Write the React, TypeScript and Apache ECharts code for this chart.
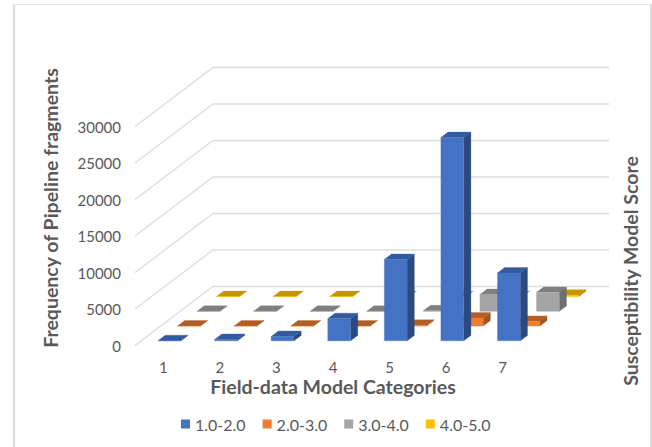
import React, { useEffect, useRef } from "react";
import * as echarts from "echarts";

const categories = ["1", "2", "3", "4", "5", "6", "7"];
const seriesNames = ["1.0-2.0", "2.0-3.0", "3.0-4.0", "4.0-5.0"];
const scoreLow = [30, 200, 600, 3050, 11150, 27850, 9300];
const scoreMidLow = [10, 10, 10, 10, 120, 1100, 650];
const scoreMidHigh = [10, 10, 10, 10, 80, 2300, 2600];
const scoreHigh = [10, 10, 10, 10, 10, 30, 200];
const yTicks = [0, 5000, 10000, 15000, 20000, 25000, 30000];

const seriesValues = [scoreLow, scoreMidLow, scoreMidHigh, scoreHigh];
const faces = [
  { front: "#4472C4", top: "#335A9E", side: "#2C4A80" },
  { front: "#ED7D31", top: "#B55E22", side: "#A5551F" },
  { front: "#A5A5A5", top: "#7F7F7F", side: "#6F6F6F" },
  { front: "#FFC000", top: "#C69500", side: "#B38600" },
];

// Oblique projection of the floor: how far the full depth shifts on screen.
const DEPTH_X = 78;
const DEPTH_Y = 59;
const BACK_WALL_END = 609;
const ROWS = 4;
const BAR_W = 22.8;
const BAR_DEPTH = 0.37; // share of a row taken by a bar

const FONT = "Lato, 'Noto Sans', sans-serif";
const GREY = "#595959";

const renderBar = (row: number) => (_: any, api: any) => {
  const cx = api.coord([api.value(0), 0])[0];
  const yBase = api.coord([api.value(0), 0])[1];
  const yTop = api.coord([api.value(0), api.value(1)])[1];
  const rowDx = DEPTH_X / ROWS;
  const rowDy = DEPTH_Y / ROWS;
  const inset = (1 - BAR_DEPTH) / 2;
  const ox = cx - BAR_W / 2 + rowDx * (row + inset);
  const oy = -rowDy * (row + inset);
  const dx = rowDx * BAR_DEPTH;
  const dy = rowDy * BAR_DEPTH;
  const x0 = ox;
  const x1 = ox + BAR_W;
  const b = yBase + oy;
  const t = yTop + oy;
  const face = faces[row];
  const poly = (points: number[][], fill: string) => ({
    type: "polygon",
    shape: { points },
    style: { fill, stroke: fill, lineWidth: 0.3 },
  });
  return {
    type: "group",
    children: [
      poly([[x1, b], [x1 + dx, b - dy], [x1 + dx, t - dy], [x1, t]], face.side),
      poly([[x0, t], [x1, t], [x1 + dx, t - dy], [x0 + dx, t - dy]], face.top),
      poly([[x0, b], [x1, b], [x1, t], [x0, t]], face.front),
    ],
  };
};

const renderWall = (_: any, api: any) => {
  const y = api.coord([0, api.value(0)])[1];
  const left = api.coord([0, 0])[0] - api.size([1, 0])[0] / 2;
  return {
    type: "polyline",
    shape: {
      points: [
        [left, y],
        [left + DEPTH_X, y - DEPTH_Y],
        [BACK_WALL_END, y - DEPTH_Y],
      ],
    },
    style: { fill: "none", stroke: "#DEDEDE", lineWidth: 1.4 },
  };
};

const frameLine = (x1: number, y1: number, x2: number, y2: number, lineWidth: number, stroke: string) => ({
  type: "line",
  shape: { x1, y1, x2, y2 },
  style: { stroke, lineWidth },
  silent: true,
});

export default function App() {
  const ref = useRef<HTMLDivElement>(null);
  useEffect(() => {
    const chart = echarts.init(ref.current!, undefined, { renderer: "svg" });
    chart.setOption({
      animation: false,
      backgroundColor: "#FFFFFF",
      textStyle: { fontFamily: FONT },
      grid: { left: 135, top: 126.5, width: 396, height: 219 },
      xAxis: {
        type: "category",
        data: categories,
        axisLine: { show: false },
        axisTick: { show: false },
        splitLine: { show: false },
        axisLabel: { color: GREY, fontSize: 15, margin: 14, fontFamily: FONT },
      },
      yAxis: {
        type: "value",
        min: 0,
        max: 30000,
        interval: 5000,
        axisLine: { show: false },
        axisTick: { show: false },
        splitLine: { show: false },
        axisLabel: {
          color: GREY,
          fontSize: 15,
          margin: 14,
          fontFamily: FONT,
          formatter: (v: number) => String(v),
        },
      },
      legend: {
        left: 176,
        top: 411,
        icon: "rect",
        itemWidth: 9,
        itemHeight: 9,
        itemGap: 17,
        data: seriesNames,
        textStyle: { color: GREY, fontSize: 16, fontFamily: FONT },
      },
      graphic: [
        frameLine(14, 4, 14, 447, 2, "#DCDCDC"),
        frameLine(14, 4.5, 651, 4.5, 1, "#E6E6E6"),
        frameLine(651, 4, 651, 447, 2, "#DCDCDC"),
        {
          type: "text",
          x: 50,
          y: 208,
          rotation: Math.PI / 2,
          style: {
            text: "Frequency of Pipeline fragments",
            fill: GREY,
            font: `bold 19.5px ${FONT}`,
            align: "center",
            verticalAlign: "middle",
          },
        },
        {
          type: "text",
          x: 333,
          y: 386,
          style: {
            text: "Field-data Model Categories",
            fill: GREY,
            font: `bold 19.5px ${FONT}`,
            align: "center",
            verticalAlign: "middle",
          },
        },
        {
          type: "text",
          x: 630,
          y: 271,
          rotation: Math.PI / 2,
          style: {
            text: "Susceptibility Model Score",
            fill: GREY,
            font: `bold 19.5px ${FONT}`,
            align: "center",
            verticalAlign: "middle",
          },
        },
      ],
      series: [
        {
          type: "custom",
          name: "walls",
          coordinateSystem: "cartesian2d",
          renderItem: renderWall,
          data: yTicks.map((v) => [v]),
          encode: { y: 0 },
          silent: true,
          clip: false,
          z: 1,
        },
        ...seriesNames.map((name, row) => ({
          type: "custom",
          name,
          coordinateSystem: "cartesian2d",
          renderItem: renderBar(row),
          data: seriesValues[row].map((v, i) => [i, v]),
          encode: { x: 0, y: 1 },
          itemStyle: { color: faces[row].front },
          clip: false,
          z: 5 - row,
        })),
      ],
    });
    return () => chart.dispose();
  }, []);
  return <div ref={ref} style={{ width: 652, height: 447, position: "absolute", left: 0, top: 0 }} />;
}
